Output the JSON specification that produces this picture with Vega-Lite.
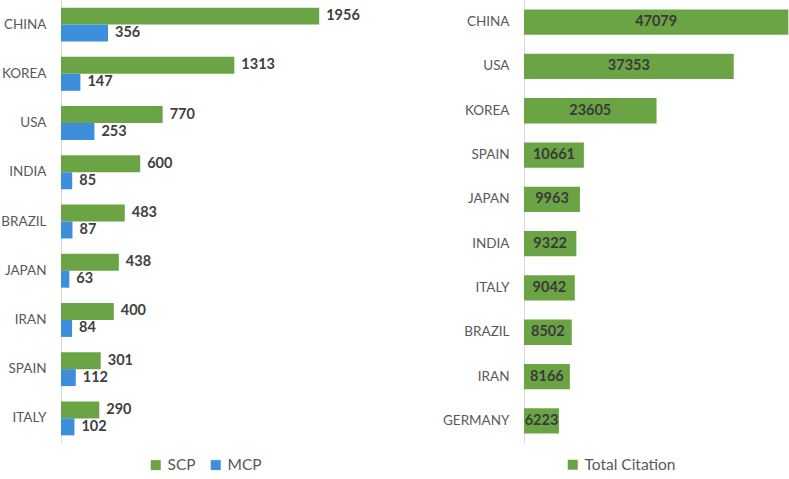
{
  "$schema": "https://vega.github.io/schema/vega-lite/v6.json",
  "padding": {"left": 0, "top": 0, "right": 0, "bottom": 0},
  "bounds": "flush",
  "spacing": 133,
  "config": {
    "view": {"stroke": null},
    "font": "Lato",
    "axis": {
      "domainColor": "#D9D9D9",
      "ticks": false,
      "grid": false,
      "labelPadding": 15,
      "labelFontSize": 13.5,
      "labelColor": "#595959"
    },
    "legend": {
      "orient": "none",
      "direction": "horizontal",
      "title": null,
      "symbolType": "square",
      "symbolSize": 100,
      "symbolStrokeWidth": 0,
      "labelFontSize": 15.5,
      "labelColor": "#595959",
      "labelOffset": 4,
      "columnPadding": 12,
      "legendY": 457
    }
  },
  "hconcat": [
    {
      "width": 330,
      "height": 443,
      "data": {
        "values": [
          {"country": "CHINA", "series": "SCP", "value": 1956},
          {"country": "CHINA", "series": "MCP", "value": 356},
          {"country": "KOREA", "series": "SCP", "value": 1313},
          {"country": "KOREA", "series": "MCP", "value": 147},
          {"country": "USA", "series": "SCP", "value": 770},
          {"country": "USA", "series": "MCP", "value": 253},
          {"country": "INDIA", "series": "SCP", "value": 600},
          {"country": "INDIA", "series": "MCP", "value": 85},
          {"country": "BRAZIL", "series": "SCP", "value": 483},
          {"country": "BRAZIL", "series": "MCP", "value": 87},
          {"country": "JAPAN", "series": "SCP", "value": 438},
          {"country": "JAPAN", "series": "MCP", "value": 63},
          {"country": "IRAN", "series": "SCP", "value": 400},
          {"country": "IRAN", "series": "MCP", "value": 84},
          {"country": "SPAIN", "series": "SCP", "value": 301},
          {"country": "SPAIN", "series": "MCP", "value": 112},
          {"country": "ITALY", "series": "SCP", "value": 290},
          {"country": "ITALY", "series": "MCP", "value": 102}
        ]
      },
      "encoding": {
        "y": {
          "field": "country",
          "type": "nominal",
          "sort": ["CHINA", "KOREA", "USA", "INDIA", "BRAZIL", "JAPAN", "IRAN", "SPAIN", "ITALY"],
          "title": null,
          "scale": {"paddingInner": 0.31, "paddingOuter": 0.155}
        },
        "yOffset": {"field": "series", "sort": ["SCP", "MCP"]},
        "x": {
          "field": "value",
          "type": "quantitative",
          "scale": {"domain": [0, 2500]},
          "axis": null
        }
      },
      "layer": [
        {
          "mark": {"type": "bar"},
          "encoding": {
            "color": {
              "field": "series",
              "type": "nominal",
              "scale": {"domain": ["SCP", "MCP"], "range": ["#6BA444", "#3D8FDB"]},
              "legend": {"legendX": 87}
            }
          }
        },
        {
          "mark": {
            "type": "text",
            "align": "left",
            "baseline": "middle",
            "dx": 7,
            "fontWeight": "bold",
            "fontSize": 14.5,
            "color": "#404040"
          },
          "encoding": {"text": {"field": "value", "type": "quantitative"}}
        }
      ]
    },
    {
      "width": 265,
      "height": 443,
      "data": {
        "values": [
          {"country": "CHINA", "citations": 47079},
          {"country": "USA", "citations": 37353},
          {"country": "KOREA", "citations": 23605},
          {"country": "SPAIN", "citations": 10661},
          {"country": "JAPAN", "citations": 9963},
          {"country": "INDIA", "citations": 9322},
          {"country": "ITALY", "citations": 9042},
          {"country": "BRAZIL", "citations": 8502},
          {"country": "IRAN", "citations": 8166},
          {"country": "GERMANY", "citations": 6223}
        ]
      },
      "transform": [{"calculate": "datum.citations / 2", "as": "mid"}],
      "encoding": {
        "y": {
          "field": "country",
          "type": "nominal",
          "sort": null,
          "title": null,
          "scale": {"paddingInner": 0.43, "paddingOuter": 0.215}
        }
      },
      "layer": [
        {
          "mark": {"type": "bar"},
          "encoding": {
            "x": {
              "field": "citations",
              "type": "quantitative",
              "scale": {"domain": [0, 47200]},
              "axis": null
            },
            "color": {
              "datum": "Total Citation",
              "scale": {"range": ["#6BA444"]},
              "legend": {"legendX": 41}
            }
          }
        },
        {
          "mark": {
            "type": "text",
            "align": "center",
            "baseline": "middle",
            "fontWeight": "bold",
            "fontSize": 14.5,
            "color": "#3A3A3A"
          },
          "encoding": {
            "x": {"field": "mid", "type": "quantitative", "scale": {"domain": [0, 47200]}},
            "text": {"field": "citations", "type": "quantitative"}
          }
        }
      ]
    }
  ],
  "resolve": {"scale": {"color": "independent"}}
}
